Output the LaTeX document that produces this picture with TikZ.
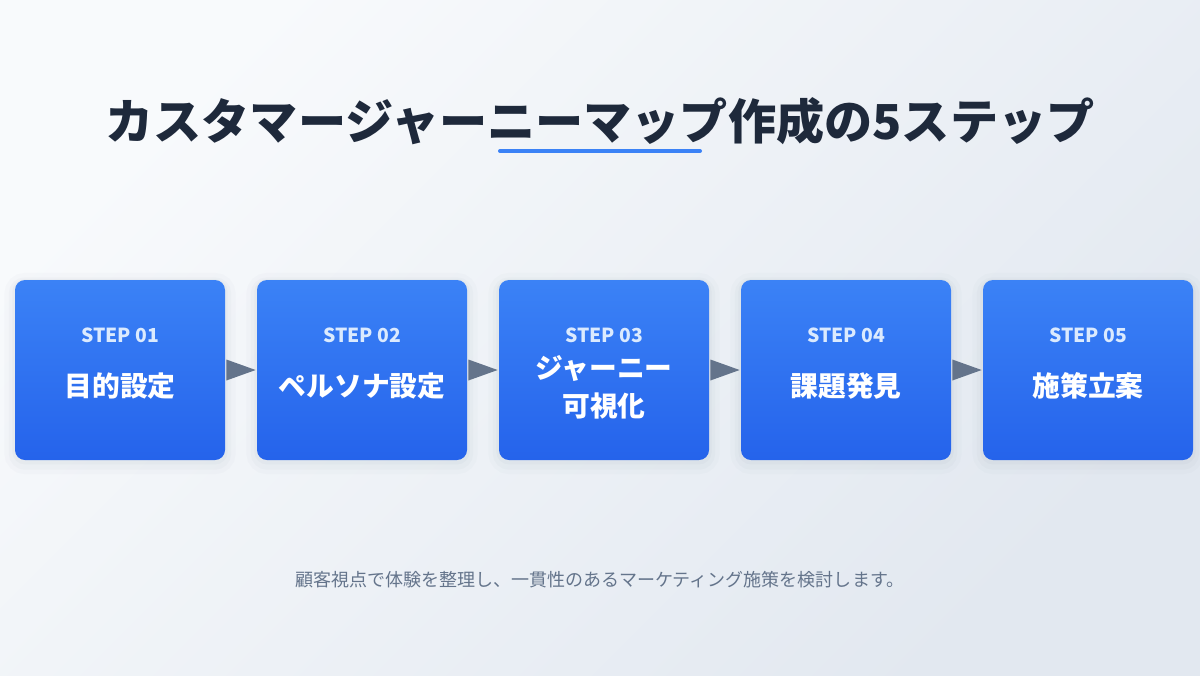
\documentclass[tikz,border=0pt]{standalone}
\usepackage{fontspec}
\setmainfont{Noto Sans CJK JP}
\usepackage{tikz}
\usetikzlibrary{calc}

\definecolor{bgtop}{HTML}{F8FAFC}
\definecolor{bgbot}{HTML}{E2E8F0}
\definecolor{titleink}{HTML}{1E293B}
\definecolor{accent}{HTML}{3B82F6}
\definecolor{boxtop}{HTML}{3B82F6}
\definecolor{boxbot}{HTML}{2563EB}
\definecolor{steplight}{HTML}{DBEAFE}
\definecolor{slate}{HTML}{64748B}

\tikzset{
  stepbox/.style={rounded corners=0.2cm, minimum width=4.2cm, minimum height=3.6cm,
    top color=boxtop, bottom color=boxbot, draw=none,
    preaction={draw=slate, draw opacity=0.025, line width=12pt, transform canvas={yshift=-2pt}},
    preaction={draw=slate, draw opacity=0.03, line width=7pt, transform canvas={yshift=-2pt}},
    preaction={draw=slate, draw opacity=0.04, line width=3pt, transform canvas={yshift=-1pt}}},
  steplabel/.style={inner sep=0pt, text=steplight, font=\fontsize{11}{13}\selectfont\bfseries},
  stepname/.style={inner sep=0pt, text=white, align=center, font=\fontsize{15.8}{21.5}\selectfont\bfseries},
  flowtip/.style={fill=slate}
}

\begin{document}
\begin{tikzpicture}
\shade[top color=bgtop, bottom color=bgbot, shading angle=45] (0,0) rectangle (24,-13.5);
\useasboundingbox (0,0) rectangle (24,-13.5);

  \node[inner sep=0pt, text=titleink, font=\fontsize{27.4}{32}\selectfont\bfseries] (title) at (12,-2.42) {カスタマージャーニーマップ作成の5ステップ};
  \coordinate (ulL) at (10,-3.02);
  \coordinate (ulR) at (14,-3.02);
  \draw[accent, line width=0.08cm, line cap=round] (ulL) -- (ulR);

  \node[stepbox] (s1) at (2.4,-7.4) {};
  \node[steplabel] (l1) at ([yshift=0.7cm]s1.center) {STEP 01};
  \node[stepname] (n1) at ([yshift=-0.32cm]s1.center) {目的設定};

  \node[stepbox] (s2) at (7.24,-7.4) {};
  \node[steplabel] (l2) at ([yshift=0.7cm]s2.center) {STEP 02};
  \node[stepname] (n2) at ([yshift=-0.32cm]s2.center) {ペルソナ設定};

  \node[stepbox] (s3) at (12.08,-7.4) {};
  \node[steplabel] (l3) at ([yshift=0.7cm]s3.center) {STEP 03};
  \node[stepname] (n3) at ([yshift=-0.34cm]s3.center) {ジャーニー\\可視化};

  \node[stepbox] (s4) at (16.92,-7.4) {};
  \node[steplabel] (l4) at ([yshift=0.7cm]s4.center) {STEP 04};
  \node[stepname] (n4) at ([yshift=-0.32cm]s4.center) {課題発見};

  \node[stepbox] (s5) at (21.76,-7.4) {};
  \node[steplabel] (l5) at ([yshift=0.7cm]s5.center) {STEP 05};
  \node[stepname] (n5) at ([yshift=-0.32cm]s5.center) {施策立案};

  \fill[flowtip] ([shift={(0.02,0.21)}]s1.east) -- ([xshift=-0.02cm]s2.west) -- ([shift={(0.02,-0.21)}]s1.east) -- cycle;
  \fill[flowtip] ([shift={(0.02,0.21)}]s2.east) -- ([xshift=-0.02cm]s3.west) -- ([shift={(0.02,-0.21)}]s2.east) -- cycle;
  \fill[flowtip] ([shift={(0.02,0.21)}]s3.east) -- ([xshift=-0.02cm]s4.west) -- ([shift={(0.02,-0.21)}]s3.east) -- cycle;
  \fill[flowtip] ([shift={(0.02,0.21)}]s4.east) -- ([xshift=-0.02cm]s5.west) -- ([shift={(0.02,-0.21)}]s4.east) -- cycle;

  \node[inner sep=0pt, text=slate, font=\fontsize{10.25}{12}\selectfont] (note) at (12,-11.6) {顧客視点で体験を整理し、一貫性のあるマーケティング施策を検討します。};
\end{tikzpicture}
\end{document}
